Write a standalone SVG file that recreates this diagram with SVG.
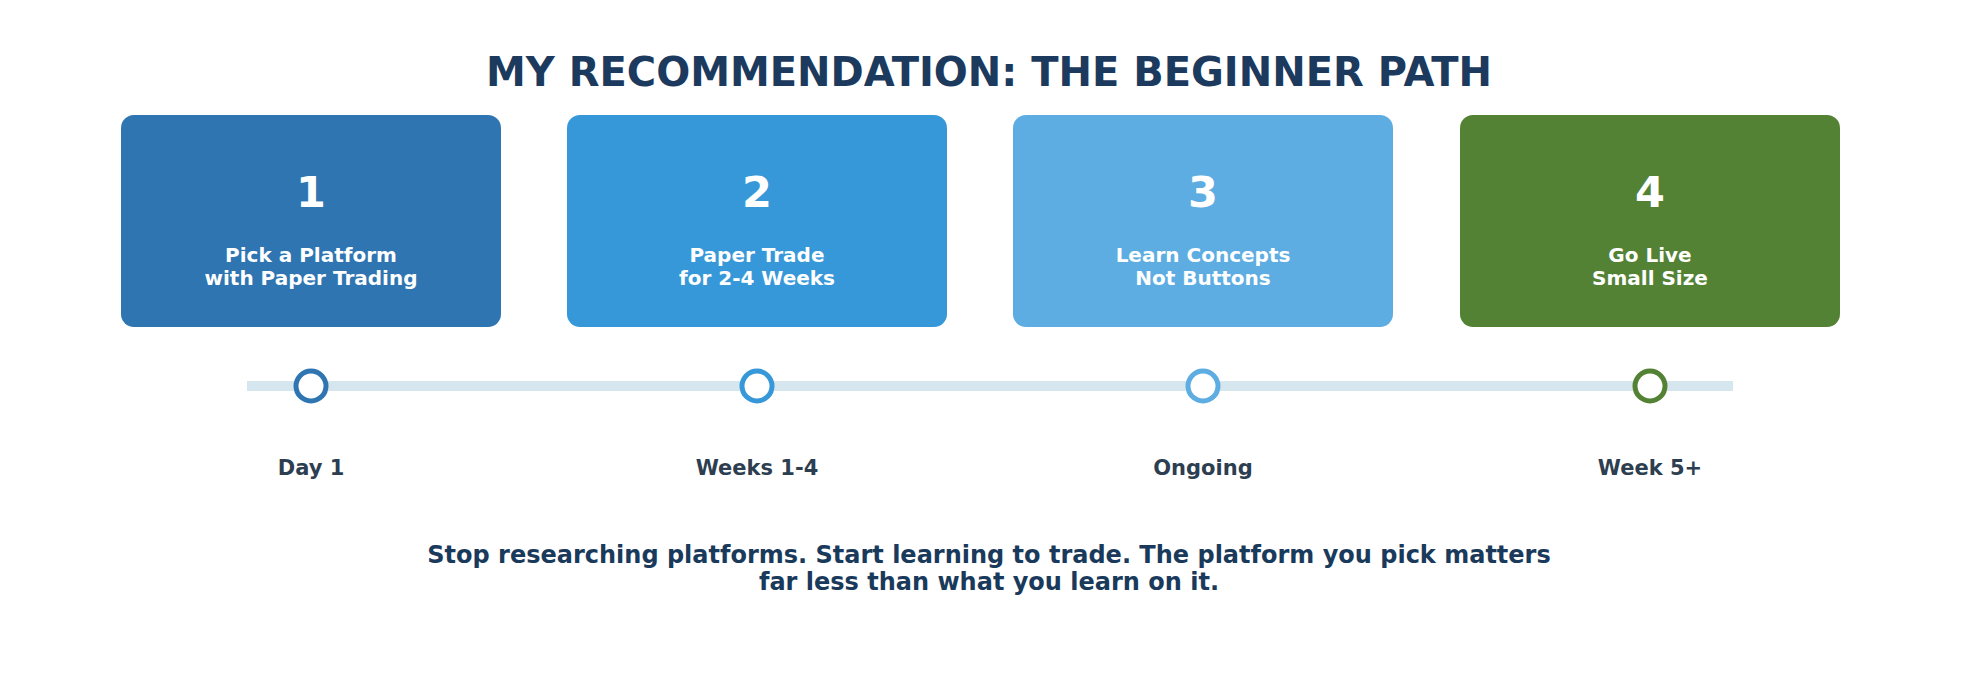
<svg xmlns="http://www.w3.org/2000/svg" width="1979" height="680" viewBox="0 0 1979 680">
<style>
text{font-family:"DejaVu Sans","Noto Sans",sans-serif;font-weight:bold;text-anchor:middle}
.num{fill:#fff;font-size:43px}
.lbl{fill:#fff;font-size:20px}
.date{fill:#2c3e50;font-size:21px}
.dot{fill:#fff;stroke-width:5}
</style>
<rect width="1979" height="680" fill="#fff"/>
<text x="989" y="86" font-size="40" fill="#1b3a5e">MY RECOMMENDATION: THE BEGINNER PATH</text>
<g id="connectors">
<rect x="247" y="381" width="1486" height="10" fill="#d6e6ef"/>
<polygon points="497,207 505,220 497,233 501,220" fill="#fff"/>
<polygon points="943,207 951,220 943,233 947,220" fill="#fff"/>
<polygon points="1389,207 1397,220 1389,233 1393,220" fill="#fff"/>
</g>
<g id="step1"><rect x="121" y="115" width="380" height="212" rx="13" fill="#2e75b2"/>
<text class="num" x="311" y="207">1</text><text class="lbl" x="311" y="262">Pick a Platform</text><text class="lbl" x="311" y="285">with Paper Trading</text>
<circle class="dot" cx="311" cy="386" r="15" stroke="#2e75b2"/><text class="date" x="311" y="475">Day 1</text></g>
<g id="step2"><rect x="567" y="115" width="380" height="212" rx="13" fill="#3798d9"/>
<text class="num" x="757" y="207">2</text><text class="lbl" x="757" y="262">Paper Trade</text><text class="lbl" x="757" y="285">for 2-4 Weeks</text>
<circle class="dot" cx="757" cy="386" r="15" stroke="#3798d9"/><text class="date" x="757" y="475">Weeks 1-4</text></g>
<g id="step3"><rect x="1013" y="115" width="380" height="212" rx="13" fill="#5dade2"/>
<text class="num" x="1203" y="207">3</text><text class="lbl" x="1203" y="262">Learn Concepts</text><text class="lbl" x="1203" y="285">Not Buttons</text>
<circle class="dot" cx="1203" cy="386" r="15" stroke="#5dade2"/><text class="date" x="1203" y="475">Ongoing</text></g>
<g id="step4"><rect x="1460" y="115" width="380" height="212" rx="13" fill="#548235"/>
<text class="num" x="1650" y="207">4</text><text class="lbl" x="1650" y="262">Go Live</text><text class="lbl" x="1650" y="285">Small Size</text>
<circle class="dot" cx="1650" cy="386" r="15" stroke="#548235"/><text class="date" x="1650" y="475">Week 5+</text></g>
<text x="989" y="563" font-size="24" fill="#1a3a5c">Stop researching platforms. Start learning to trade. The platform you pick matters</text>
<text x="989" y="590" font-size="24" fill="#1a3a5c">far less than what you learn on it.</text>
</svg>
